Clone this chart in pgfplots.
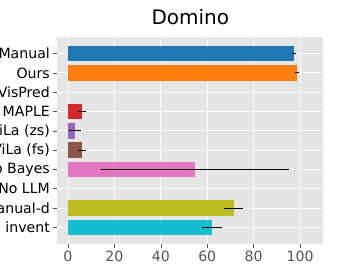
\documentclass[border=0pt]{standalone}
\usepackage{pgfplots}
\pgfplotsset{compat=1.18}
\usepackage{fontspec}
\setmainfont{DejaVu Sans}
\definecolor{c0}{HTML}{1F77B4}
\definecolor{c1}{HTML}{FF7F0E}
\definecolor{c3}{HTML}{D62728}
\definecolor{c4}{HTML}{9467BD}
\definecolor{c5}{HTML}{8C564B}
\definecolor{c6}{HTML}{E377C2}
\definecolor{c8}{HTML}{BCBD22}
\definecolor{c9}{HTML}{17BECF}
\definecolor{bg}{HTML}{E5E5E5}
\definecolor{tickgray}{HTML}{555555}
\begin{document}
\begin{tikzpicture}
\begin{axis}[
  at={(0,0)}, anchor=south west,
  scale only axis, width=266pt, height=207pt,
  xmin=-4.6, xmax=110, ymin=-0.86, ymax=9.86, y dir=reverse,
  axis background/.style={fill=bg},
  axis line style={draw=none},
  grid=major, grid style={white, line width=0.9pt},
  xtick={0,20,40,60,80,100},
  ytick={0,1,2,3,4,5,6,7,8,9},
  yticklabels={Manual,Ours,VisPred,MAPLE,ViLa (zs),ViLa (fs),No Bayes,No LLM,Manual-d,No invent},
  tick align=outside, tick pos=left,
  major tick length=4pt,
  tick style={tickgray, line width=0.6pt},
  ticklabel style={font=\fontsize{14.1}{16}\selectfont},
  xticklabel style={text=tickgray},
  yticklabel style={text=black, inner xsep=3.3pt},
  /pgf/number format/assume math mode=true,
  title={Domino},
  title style={font=\fontsize{20}{24}\selectfont, at={(0.5,1)}, anchor=base, yshift=6.3pt},
  every axis plot/.append style={xbar, bar width=0.8, bar shift=0pt, draw=none,
    error bars/x dir=both, error bars/x explicit, error bars/error mark=none,
    error bars/error bar style={black, line width=0.9pt}},
]
\addplot[fill=c0] coordinates {(97.3,0) +- (1.0,0)};
\addplot[fill=c1] coordinates {(98.7,1) +- (1.0,0)};
\addplot[fill=c3] coordinates {(6.2,3) +- (1.7,0)};
\addplot[fill=c4] coordinates {(2.9,4) +- (2.5,0)};
\addplot[fill=c5] coordinates {(6.2,5) +- (1.7,0)};
\addplot[fill=c6] coordinates {(54.7,6) +- (40.6,0)};
\addplot[fill=c8] coordinates {(71.4,8) +- (4.1,0)};
\addplot[fill=c9] coordinates {(62.1,9) +- (4.3,0)};
\end{axis}
\pgfresetboundingbox
\useasboundingbox (-57.3pt,-36pt) rectangle (281.7pt,244pt);
\end{tikzpicture}
\end{document}
